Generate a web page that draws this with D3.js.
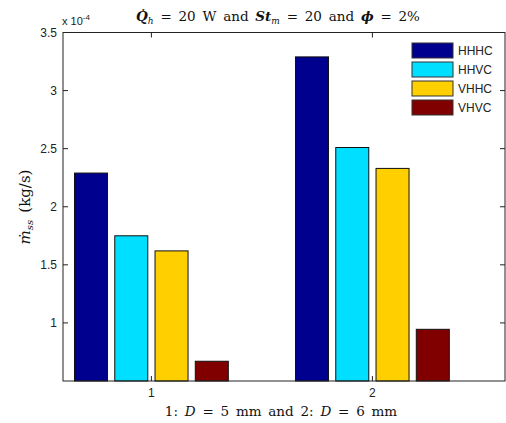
<!DOCTYPE html>
<html>
<head>
<meta charset="utf-8">
<script src="https://cdn.jsdelivr.net/npm/d3@7"></script>
<style>
    body { margin: 0; background: #fff; }
    svg { display: block; }
    .tick-label { font-family: "Liberation Sans", Arial, sans-serif; font-size: 12px; fill: #222; }
    .math { font-family: "DejaVu Serif", "Liberation Serif", serif; font-size: 13.5px; fill: #111; word-spacing: 2.5px; }
</style>
</head>
<body>
<div class="container"></div>
<script>
// data, values in units of 1e-4 kg/s
const groups = [1, 2];
const series = ['HHHC', 'HHVC', 'VHHC', 'VHVC'];
const colors = ['#00008f', '#00dfff', '#ffcf00', '#800000'];
const hhhc = [2.29, 3.29];
const hhvc = [1.75, 2.51];
const vhhc = [1.62, 2.33];
const vhvc = [0.67, 0.945];
const yTicks = [1, 1.5, 2, 2.5, 3, 3.5];
const xTicks = [1, 2];

const values = [hhhc, hhvc, vhhc, vhvc];

const width = 506;
const height = 423;
const margin = { left: 63, right: 1, top: 32.5, bottom: 42 };

const svg = d3.select('.container').append('svg').attr('width', width).attr('height', height);

const x = d3.scaleLinear().domain([0.6, 2.6]).range([margin.left, width - margin.right]);
const y = d3.scaleLinear().domain([0.5, 3.5]).range([height - margin.bottom, margin.top]);

// bars inside a group
const halfGroup = x(1.348) - x(1);
const sub = d3.scaleBand().domain(series).range([-halfGroup, halfGroup]).paddingInner(0.18);

const bars = svg.append('g');
series.forEach((s, i) => {
    bars.selectAll('rect.s' + i).data(groups).enter().append('rect')
        .attr('class', 's' + i)
        .attr('x', g => x(g) + sub(s))
        .attr('y', (g, j) => y(values[i][j]))
        .attr('width', sub.bandwidth())
        .attr('height', (g, j) => y(0.5) - y(values[i][j]))
        .attr('fill', colors[i])
        .attr('stroke', '#111')
        .attr('stroke-width', 1);
});

// frame
const x0 = x.range()[0], x1 = x.range()[1], y0 = y.range()[0], y1 = y.range()[1];
svg.append('rect').attr('x', x0).attr('y', y1).attr('width', x1 - x0).attr('height', y0 - y1)
    .attr('fill', 'none').attr('stroke', '#222').attr('stroke-width', 1);

// axes with inward ticks
const tickLen = 5;
const ax = svg.append('g').attr('stroke', '#222').attr('stroke-width', 1);
yTicks.forEach(t => {
    ax.append('line').attr('x1', x0).attr('x2', x0 + tickLen).attr('y1', y(t)).attr('y2', y(t));
    ax.append('line').attr('x1', x1).attr('x2', x1 - tickLen).attr('y1', y(t)).attr('y2', y(t));
});
xTicks.forEach(t => {
    ax.append('line').attr('x1', x(t)).attr('x2', x(t)).attr('y1', y0).attr('y2', y0 - tickLen);
    ax.append('line').attr('x1', x(t)).attr('x2', x(t)).attr('y1', y1).attr('y2', y1 + tickLen);
});

svg.append('g').selectAll('text').data(yTicks).enter().append('text')
    .attr('class', 'tick-label')
    .attr('x', x0 - 6).attr('y', d => y(d) + 4)
    .attr('text-anchor', 'end')
    .text(d => d);

svg.append('g').selectAll('text').data(xTicks).enter().append('text')
    .attr('class', 'tick-label')
    .attr('x', d => x(d)).attr('y', y0 + 16)
    .attr('text-anchor', 'middle')
    .text(d => d);

// exponent label
const ex = svg.append('text').attr('class', 'tick-label').attr('x', x0 - 1).attr('y', 25).style('font-size', '11px');
ex.append('tspan').text('x 10');
ex.append('tspan').attr('dy', -5).style('font-size', '8px').text('-4');

// title
const title = svg.append('text').attr('class', 'math').attr('x', 278).attr('y', 21).attr('text-anchor', 'middle');
title.append('tspan').style('font-style', 'italic').style('font-weight', 'bold').text('Q\u0307');
title.append('tspan').attr('dy', 3).style('font-size', '9px').style('font-style', 'italic').text('h');
title.append('tspan').attr('dy', -3).text(' = 20 W and ');
title.append('tspan').style('font-style', 'italic').style('font-weight', 'bold').text('St');
title.append('tspan').attr('dy', 3).style('font-size', '9px').style('font-style', 'italic').text('m');
title.append('tspan').attr('dy', -3).text(' = 20 and ');
title.append('tspan').style('font-style', 'italic').style('font-weight', 'bold').text('\u03d5');
title.append('tspan').text(' = 2%');

// x label
const xl = svg.append('text').attr('class', 'math').attr('x', 281).attr('y', 416).attr('text-anchor', 'middle');
xl.append('tspan').text('1:  ');
xl.append('tspan').style('font-style', 'italic').text('D');
xl.append('tspan').text(' = 5 mm and 2:  ');
xl.append('tspan').style('font-style', 'italic').text('D');
xl.append('tspan').text(' = 6 mm');

// y label
const yl = svg.append('text').attr('class', 'math').style('font-size', '15px')
    .attr('transform', 'translate(30,207) rotate(-90)').attr('text-anchor', 'middle');
yl.append('tspan').style('font-style', 'italic').text('m\u0307');
yl.append('tspan').attr('dy', 3).style('font-size', '10px').style('font-style', 'italic').text('ss');
yl.append('tspan').attr('dy', -3).text(' (kg/s)');

// legend
const legend = svg.append('g');
series.forEach((s, i) => {
    const ly = 43 + i * 19;
    legend.append('rect').attr('x', 412).attr('y', ly).attr('width', 41).attr('height', 15)
        .attr('fill', colors[i]).attr('stroke', '#333').attr('stroke-width', 1);
    legend.append('text').attr('class', 'tick-label').attr('x', 458).attr('y', ly + 12).text(s);
});
</script>
</body>
</html>
